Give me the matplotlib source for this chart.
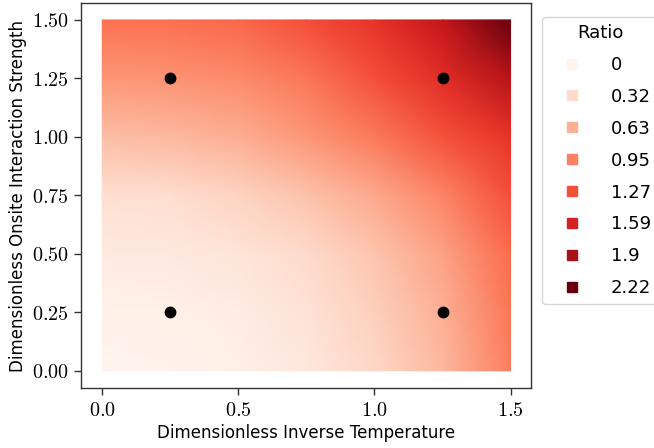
import numpy as np
import matplotlib
matplotlib.use("Agg")
import matplotlib.pyplot as plt
from matplotlib.lines import Line2D
from matplotlib.colors import Normalize

plt.rcParams['mathtext.fontset'] = 'cm'

# grid nodes (Dimensionless Inverse Temperature, Dimensionless Onsite Interaction Strength)
beta_nodes = [0.0, 0.25, 0.5, 0.75, 1.0, 1.25, 1.5]
u_nodes = [0.0, 0.25, 0.5, 0.75, 1.0, 1.25, 1.5]
# ratio values, rows = U (bottom to top), cols = beta
ratio_u000 = [0.00, 0.03, 0.08, 0.18, 0.34, 0.58, 0.97]
ratio_u025 = [0.06, 0.07, 0.12, 0.25, 0.40, 0.63, 1.02]
ratio_u050 = [0.15, 0.16, 0.22, 0.32, 0.48, 0.72, 1.10]
ratio_u075 = [0.28, 0.30, 0.37, 0.50, 0.68, 0.92, 1.27]
ratio_u100 = [0.53, 0.57, 0.65, 0.80, 1.00, 1.25, 1.45]
ratio_u125 = [0.80, 0.83, 0.88, 1.02, 1.27, 1.50, 1.80]
ratio_u150 = [1.05, 1.07, 1.12, 1.28, 1.45, 1.72, 2.22]

# sampled points
point_beta = [0.25, 1.25, 0.25, 1.25]
point_u = [0.25, 0.25, 1.25, 1.25]

legend_values = [0, 0.32, 0.63, 0.95, 1.27, 1.59, 1.9, 2.22]
xticks = [0.0, 0.5, 1.0, 1.5]
yticks = [0.0, 0.25, 0.5, 0.75, 1.0, 1.25, 1.5]

Z = np.array([ratio_u000, ratio_u025, ratio_u050, ratio_u075,
              ratio_u100, ratio_u125, ratio_u150])
X, Y = np.meshgrid(beta_nodes, u_nodes)

fig = plt.figure(figsize=(6.54, 4.48), dpi=100)
ax = fig.add_axes([81/654, 1-388.3/448, (530.7-81)/654, (388.3-3.3)/448])

norm = Normalize(vmin=0, vmax=max(legend_values))
cmap = plt.get_cmap('Reds')
ax.pcolormesh(X, Y, Z, shading='gouraud', cmap=cmap, norm=norm, rasterized=True)
ax.plot(point_beta, point_u, 'o', color='black', markersize=7.5, linestyle='none')

ax.set_xlim(-0.078, 1.574)
ax.set_ylim(-0.075, 1.571)
ax.set_xticks(xticks)
ax.set_xticklabels([f'${t:.1f}$' for t in xticks], fontsize=14.5)
ax.set_yticks(yticks)
ax.set_yticklabels([f'${t:.2f}$' for t in yticks], fontsize=14.5)
ax.tick_params(direction='out', length=5, width=1, color='#333333', pad=4)
for s in ax.spines.values():
    s.set_color('#333333')
    s.set_linewidth(1.0)

ax.set_xlabel('Dimensionless Inverse Temperature', fontsize=12, labelpad=3)
ax.set_ylabel('Dimensionless Onsite Interaction Strength', fontsize=12, labelpad=3)

handles = [Line2D([0], [0], marker='s', linestyle='none', markersize=7.2,
                  markerfacecolor=cmap(norm(v)), markeredgecolor=cmap(norm(v)))
           for v in legend_values]
labels = [f'{v:g}' for v in legend_values]
leg = ax.legend(handles, labels, title='Ratio', loc='upper left',
                bbox_to_anchor=(1.025, 0.965), borderaxespad=0,
                fontsize=13, title_fontsize=13, frameon=True,
                handlelength=2.5, handletextpad=0.93, labelspacing=0.77,
                fancybox=True, edgecolor='#cccccc')
leg.get_frame().set_linewidth(1.0)

fig.savefig('out.png', dpi=100)
